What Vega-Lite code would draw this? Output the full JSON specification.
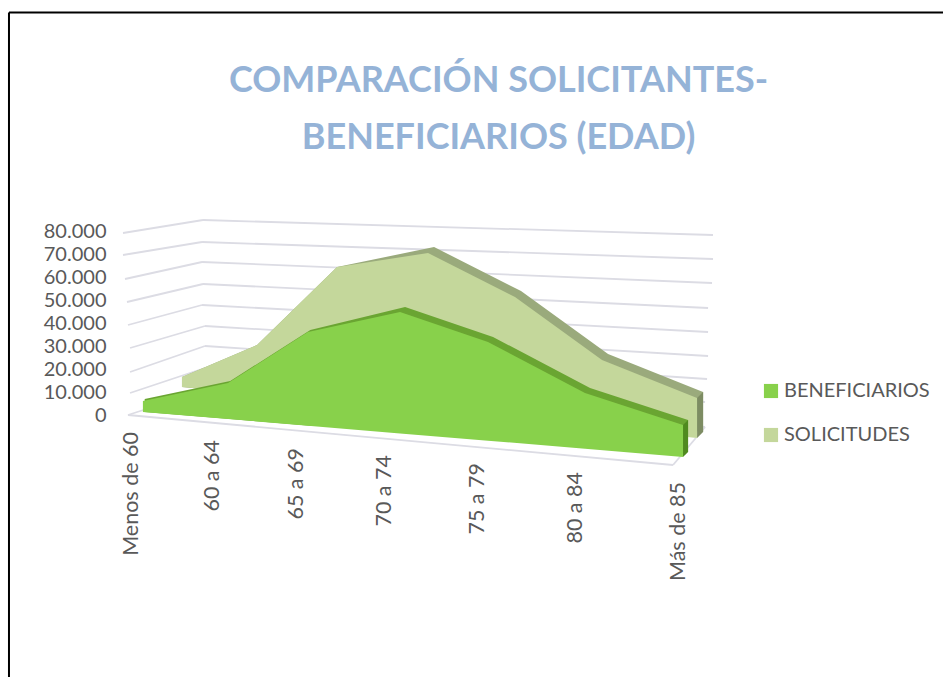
{
"$schema":"https://vega.github.io/schema/vega-lite/v6.json",
"width":943,"height":677,"padding":0,"autosize":{"type":"none"},
"background":"white",
"config":{"view":{"stroke":null},"font":"Lato"},
"title":{"text":["COMPARACIÓN SOLICITANTES-","BENEFICIARIOS (EDAD)"],"font":"Lato","fontSize":36,"fontWeight":"bold","color":"#95b3d7","lineHeight":57,"anchor":"middle","dx":27,"offset":-157,"frame":"group"},
"datasets":{
"marco":[
{"x1":-1.478,"x2":8.8994,"y1":175435,"y2":175435},
{"x1":-1.478,"x2":-1.478,"y1":175435,"y2":-113478}
],
"rejilla":[
{"x1":-0.211,"y1":79565,"x2":0.678,"y2":85217},{"x1":0.678,"y1":85217,"x2":6.344,"y2":78695},
{"x1":-0.211,"y1":70000,"x2":0.667,"y2":75652},{"x1":0.667,"y1":75652,"x2":6.344,"y2":68261},
{"x1":-0.189,"y1":59565,"x2":0.667,"y2":66957},{"x1":0.667,"y1":66957,"x2":6.333,"y2":57826},
{"x1":-0.167,"y1":49565,"x2":0.678,"y2":57391},{"x1":0.678,"y1":57391,"x2":6.289,"y2":46957},
{"x1":-0.156,"y1":39565,"x2":0.667,"y2":48261},{"x1":0.667,"y1":48261,"x2":6.289,"y2":36522},
{"x1":-0.133,"y1":29565,"x2":0.7,"y2":39130},{"x1":0.7,"y1":39130,"x2":6.289,"y2":26087},
{"x1":-0.133,"y1":19130,"x2":0.7,"y2":30435},{"x1":0.7,"y1":30435,"x2":6.278,"y2":16087},
{"x1":-0.133,"y1":10000,"x2":0.7,"y2":20870},{"x1":0.7,"y1":20870,"x2":6.256,"y2":6087},
{"x1":-0.156,"y1":435,"x2":0.7,"y2":11304},{"x1":0.7,"y1":11304,"x2":6.256,"y2":-4783},
{"x1":-0.156,"y1":435,"x2":5.9,"y2":-21304},{"x1":5.9,"y1":-21304,"x2":6.256,"y2":-4783}
],
"areas":[
{"series":"SOLICITUDES","part":"lomo","pos":0.444,"top":16957,"base":12609},
{"series":"SOLICITUDES","part":"lomo","pos":1.278,"top":30870,"base":9391},
{"series":"SOLICITUDES","part":"lomo","pos":2.167,"top":64783,"base":5565},
{"series":"SOLICITUDES","part":"lomo","pos":3.245,"top":73479,"base":4261},
{"series":"SOLICITUDES","part":"lomo","pos":4.211,"top":54348,"base":435},
{"series":"SOLICITUDES","part":"lomo","pos":5.178,"top":26957,"base":-2869},
{"series":"SOLICITUDES","part":"lomo","pos":6.234,"top":10435,"base":-6956},
{"series":"SOLICITUDES","part":"lateral","pos":6.167,"top":7826,"base":-9565},
{"series":"SOLICITUDES","part":"lateral","pos":6.234,"top":10435,"base":-6956},
{"series":"SOLICITUDES","part":"cara","pos":0.444,"top":16957,"base":12609},
{"series":"SOLICITUDES","part":"cara","pos":1.278,"top":30870,"base":9391},
{"series":"SOLICITUDES","part":"cara","pos":2.167,"top":64783,"base":5565},
{"series":"SOLICITUDES","part":"cara","pos":3.178,"top":70870,"base":1652},
{"series":"SOLICITUDES","part":"cara","pos":4.144,"top":51739,"base":-2174},
{"series":"SOLICITUDES","part":"cara","pos":5.111,"top":24348,"base":-5478},
{"series":"SOLICITUDES","part":"cara","pos":6.167,"top":7826,"base":-9565},
{"series":"BENEFICIARIOS","part":"lomo","pos":0.03,"top":7400,"base":1739},
{"series":"BENEFICIARIOS","part":"lomo","pos":0.98,"top":15200,"base":-1304},
{"series":"BENEFICIARIOS","part":"lomo","pos":1.87,"top":37400,"base":-4217},
{"series":"BENEFICIARIOS","part":"lomo","pos":2.923,"top":47391,"base":-5391},
{"series":"BENEFICIARIOS","part":"lomo","pos":3.9,"top":34348,"base":-8565},
{"series":"BENEFICIARIOS","part":"lomo","pos":4.978,"top":12174,"base":-12087},
{"series":"BENEFICIARIOS","part":"lomo","pos":6.067,"top":-1739,"base":-15652},
{"series":"BENEFICIARIOS","part":"lateral","pos":6.011,"top":-3913,"base":-17826},
{"series":"BENEFICIARIOS","part":"lateral","pos":6.067,"top":-1739,"base":-15652},
{"series":"BENEFICIARIOS","part":"cara","pos":0.01,"top":6522,"base":1739},
{"series":"BENEFICIARIOS","part":"cara","pos":0.956,"top":14348,"base":-1304},
{"series":"BENEFICIARIOS","part":"cara","pos":1.844,"top":36522,"base":-4217},
{"series":"BENEFICIARIOS","part":"cara","pos":2.867,"top":45217,"base":-7565},
{"series":"BENEFICIARIOS","part":"cara","pos":3.844,"top":32174,"base":-10739},
{"series":"BENEFICIARIOS","part":"cara","pos":4.922,"top":10000,"base":-14261},
{"series":"BENEFICIARIOS","part":"cara","pos":6.011,"top":-3913,"base":-17826}
],
"etiquetas":[
{"cat":"Menos de 60","pos":-0.111,"val":-6957},
{"cat":"60 a 64","pos":0.789,"val":-10435},
{"cat":"65 a 69","pos":1.722,"val":-13913},
{"cat":"70 a 74","pos":2.7,"val":-16957},
{"cat":"75 a 79","pos":3.733,"val":-20435},
{"cat":"80 a 84","pos":4.822,"val":-24348},
{"cat":"Más de 85","pos":5.967,"val":-28696}
]
},
"encoding":{
"x":{"field":"pos","type":"quantitative","scale":{"domain":[-1.5778,8.8994],"nice":false,"zero":false},"axis":null},
"y":{"field":"top","type":"quantitative","scale":{"domain":[-113478,180869],"nice":false,"zero":false},
"axis":{"orient":"left","title":null,"values":[0,10000,20000,30000,40000,50000,60000,70000,80000],"offset":-106,"domain":false,"ticks":false,"grid":false,"labelPadding":0,"labelFont":"Lato","labelFontSize":20,"labelColor":"#595959","labelExpr":"replace(format(datum.value,','),',','.')"}}
},
"layer":[
{"data":{"name":"marco"},"mark":{"type":"rule","stroke":"#000000","strokeWidth":2},
 "encoding":{"x":{"field":"x1","type":"quantitative"},"x2":{"field":"x2"},"y":{"field":"y1","type":"quantitative"},"y2":{"field":"y2"}}},
{"data":{"name":"rejilla"},"mark":{"type":"rule","stroke":"#dcdce4","strokeWidth":1.8},
 "encoding":{"x":{"field":"x1","type":"quantitative"},"x2":{"field":"x2"},"y":{"field":"y1","type":"quantitative"},"y2":{"field":"y2"}}},
{"data":{"name":"areas"},"transform":[{"filter":"datum.series=='SOLICITUDES'&&datum.part=='lomo'"}],"mark":{"type":"area","color":"#9aaa7c"},"encoding":{"y2":{"field":"base"}}},
{"data":{"name":"areas"},"transform":[{"filter":"datum.series=='SOLICITUDES'&&datum.part=='lateral'"}],"mark":{"type":"area","color":"#7d8c63"},"encoding":{"y2":{"field":"base"}}},
{"data":{"name":"areas"},"transform":[{"filter":"datum.series=='SOLICITUDES'&&datum.part=='cara'"}],"mark":{"type":"area"},
 "encoding":{"y2":{"field":"base"},"color":{"field":"series","type":"nominal","scale":{"domain":["BENEFICIARIOS","SOLICITUDES"],"range":["#88d14b","#c4d79b"]},
 "legend":{"orient":"none","legendX":761,"legendY":381,"title":null,"symbolType":"square","symbolSize":200,"symbolStrokeWidth":0,"labelFont":"Lato","labelFontSize":20,"labelColor":"#595959","rowPadding":24,"labelOffset":3}}}},
{"data":{"name":"areas"},"transform":[{"filter":"datum.series=='BENEFICIARIOS'&&datum.part=='lomo'"}],"mark":{"type":"area","color":"#6aa532"},"encoding":{"y2":{"field":"base"}}},
{"data":{"name":"areas"},"transform":[{"filter":"datum.series=='BENEFICIARIOS'&&datum.part=='lateral'"}],"mark":{"type":"area","color":"#4f8a1f"},"encoding":{"y2":{"field":"base"}}},
{"data":{"name":"areas"},"transform":[{"filter":"datum.series=='BENEFICIARIOS'&&datum.part=='cara'"}],"mark":{"type":"area"},
 "encoding":{"y2":{"field":"base"},"color":{"field":"series","type":"nominal"}}},
{"data":{"name":"etiquetas"},"mark":{"type":"text","angle":270,"align":"right","baseline":"middle","font":"Lato","fontSize":21.5,"color":"#595959"},
 "encoding":{"y":{"field":"val","type":"quantitative"},"text":{"field":"cat","type":"nominal"}}}
]
}
